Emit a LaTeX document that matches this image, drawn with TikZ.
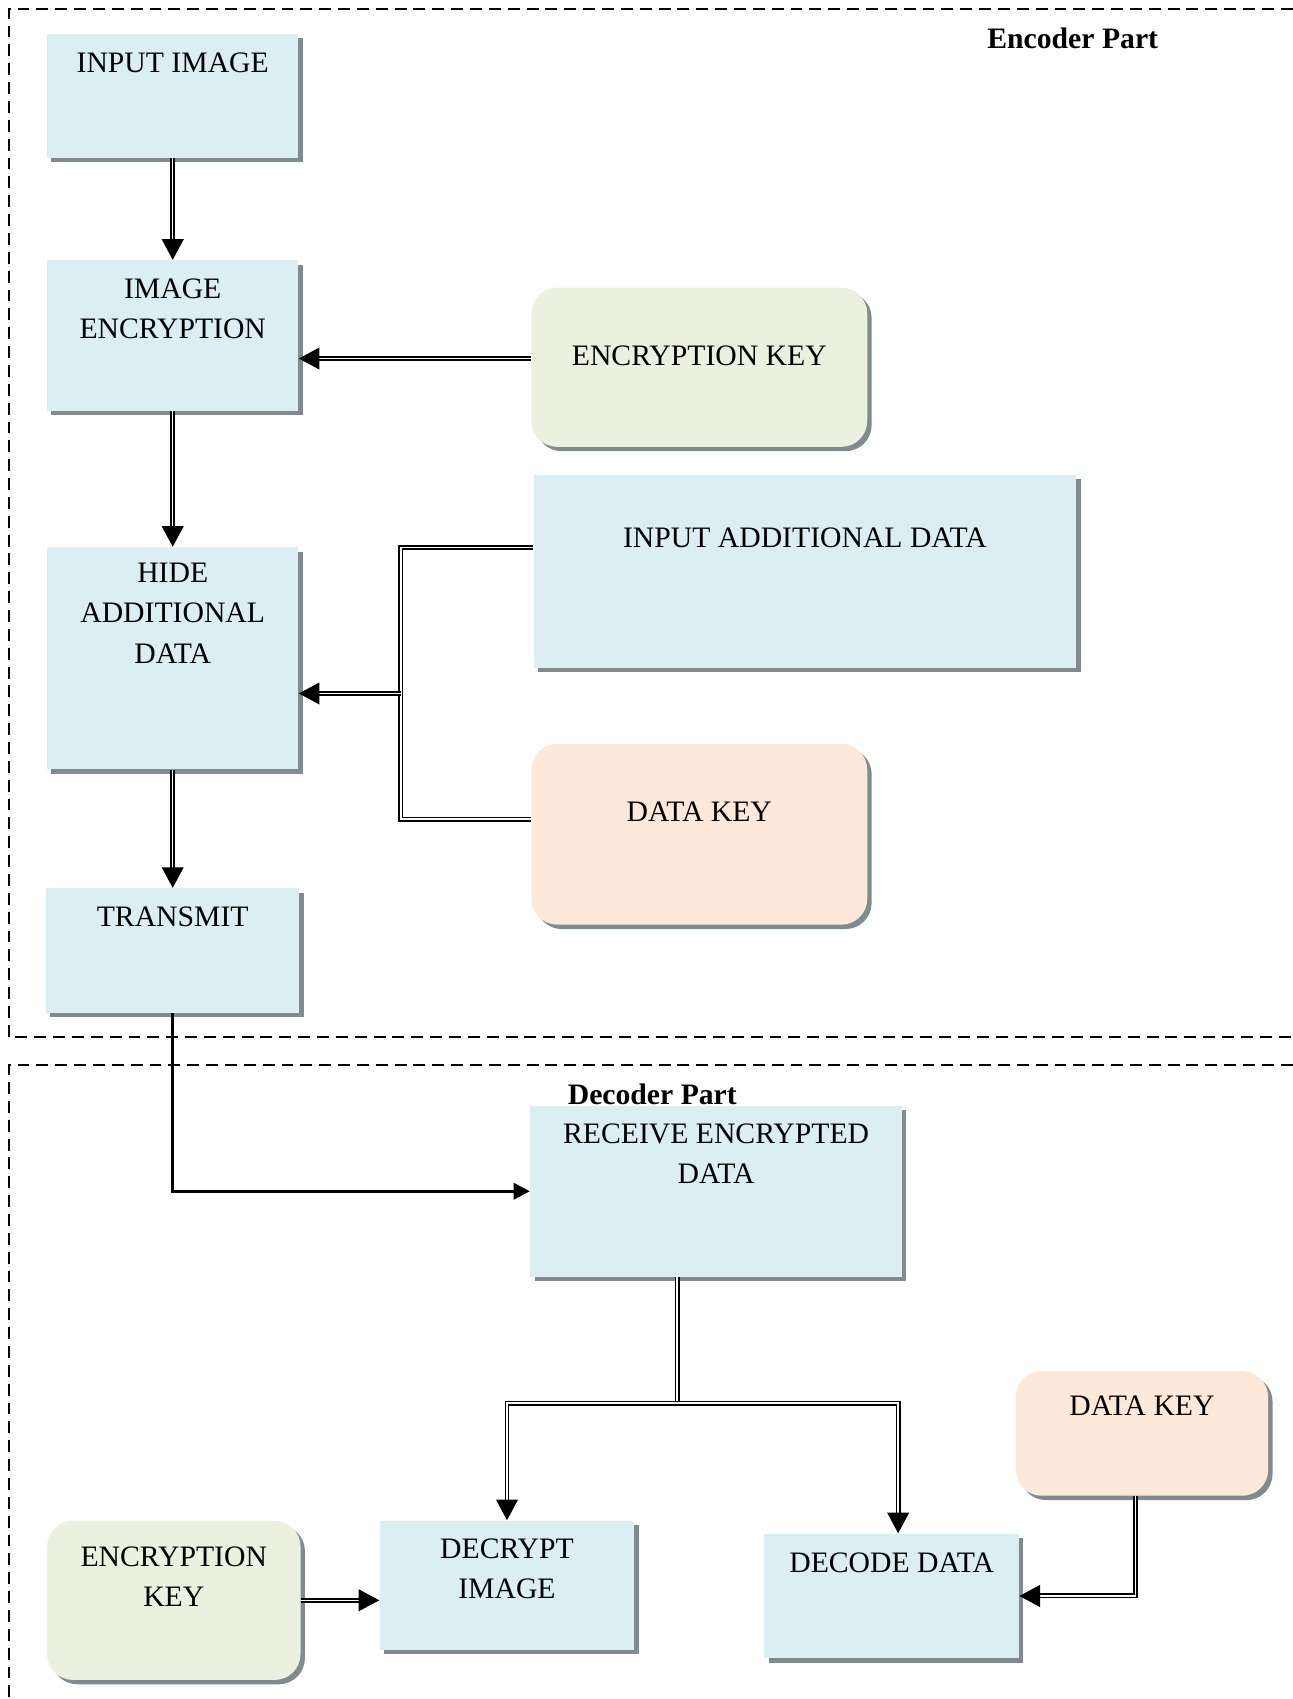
\documentclass[tikz,border=0pt]{standalone}
\usepackage{fontspec}
\setmainfont{Liberation Serif}
\usetikzlibrary{positioning, arrows.meta, shadows}
\definecolor{boxblue}{RGB}{218,238,243}
\definecolor{keygreen}{RGB}{235,241,222}
\definecolor{keypeach}{RGB}{253,233,217}
\definecolor{shadowgray}{RGB}{127,139,143}
\tikzset {
    box/.style={fill=boxblue, inner sep=0pt, anchor=north west,
        drop shadow={shadow xshift=2pt, shadow yshift=-2pt, fill=shadowgray, opacity=1}},
    keybox/.style={box, rounded corners=12pt},
    txt/.style={align=center, anchor=north, inner sep=0pt, font=\fontsize{13.7}{18.5}\selectfont},
    part/.style={inner sep=0pt, font=\fontsize{13.7}{18.5}\selectfont\bfseries},
    dbl/.style={draw=black, line width=0.8pt, double=white, double distance=0.7pt,
        -{Triangle[length=9.5pt, width=10pt]}},
    dblline/.style={dbl, -},
    wire/.style={draw=black, line width=1.4pt, -{Triangle[length=7.5pt, width=7.5pt]}},
    frame/.style={draw=black, line width=0.9pt, dash pattern=on 5.5pt off 3.2pt}
}

\begin{document}
\begin{tikzpicture}[x=0.5pt, y=-0.5pt]
    \useasboundingbox (0,0) rectangle (1193,1568);

    % encoder part
    \draw[frame] (1193,8) -- (8,8) -- (8,957) -- (1193,957);
    \node[part] (enctitle) at (990,35) {Encoder Part};

    \node[box, minimum width=116pt, minimum height=57pt,
        label={[txt, yshift=-8.5pt]north:INPUT IMAGE}] (inimg) at (43,31) {};
    \node[box, below=47pt of inimg, minimum width=116pt, minimum height=69.5pt,
        label={[txt, yshift=-8.5pt]north:{IMAGE\\ENCRYPTION}}] (imgenc) {};
    \node[box, below=62.5pt of imgenc, minimum width=116pt, minimum height=102.5pt,
        label={[txt, yshift=-7.5pt]north:{HIDE\\ADDITIONAL\\DATA}}] (hide) {};
    \node[box, below=54.5pt of hide, minimum width=117pt, minimum height=57.5pt,
        label={[txt, yshift=-8.5pt]north:TRANSMIT}] (trans) {};

    \node[keybox, fill=keygreen, minimum width=155pt, minimum height=73.5pt,
        label={[txt, yshift=-27pt]north:ENCRYPTION KEY}] (enckey) at (490,265) {};
    \node[box, minimum width=250.5pt, minimum height=89pt,
        label={[txt, yshift=-24.5pt]north:INPUT ADDITIONAL DATA}] (adddata) at (492,438) {};
    \node[keybox, fill=keypeach, minimum width=155pt, minimum height=83.5pt,
        label={[txt, yshift=-27pt]north:DATA KEY}] (datakey) at (490,686) {};

    \coordinate (jn) at (370,640);

    \draw[dbl] (inimg.south) -- (inimg.south |- imgenc.north);
    \draw[dbl] (imgenc.south) -- (imgenc.south |- hide.north);
    \draw[dbl] (hide.south) -- (hide.south |- trans.north);
    \draw[dbl] ([yshift=4pt]enckey.west) -- ([yshift=4pt]enckey.west -| imgenc.east);
    \draw[dblline] ([yshift=11pt]adddata.west) -| (jn) |- ([yshift=7pt]datakey.west);
    \draw[dbl] (jn) -- (jn -| hide.east);

    % decoder part
    \draw[frame] (1193,983) -- (8,983) -- (8,1568);
    \node[part] (dectitle) at (602,1010) {Decoder Part};

    \node[box, minimum width=171.5pt, minimum height=79pt,
        label={[txt, yshift=-8.5pt]north:{RECEIVE ENCRYPTED\\DATA}}] (recv) at (489,1020) {};
    \node[box, minimum width=117.5pt, minimum height=59.5pt,
        label={[txt, yshift=-8.5pt]north:{DECRYPT\\IMAGE}}] (decimg) at (350,1403) {};
    \node[box, minimum width=117.5pt, minimum height=57.5pt,
        label={[txt, yshift=-9pt]north:DECODE DATA}] (decdata) at (705,1415) {};
    \node[keybox, fill=keypeach, minimum width=116.5pt, minimum height=57.5pt,
        label={[txt, yshift=-11.5pt]north:DATA KEY}] (datakey2) at (937,1265) {};
    \node[keybox, fill=keygreen, minimum width=117pt, minimum height=73.5pt,
        label={[txt, yshift=-12pt]north:{ENCRYPTION\\KEY}}] (enckey2) at (43,1403) {};

    \coordinate (sp) at (625,1295);

    \draw[wire] (trans.south) |- (recv.west);
    \draw[dblline] (sp |- recv.south) -- (sp);
    \draw[dbl] (sp) -| (decimg.north);
    \draw[dbl] (sp) -| ([xshift=3pt]decdata.north);
    \draw[dbl] ([xshift=-3pt]datakey2.south) |- (decdata.east);
    \draw[dbl] (enckey2.east) -- (enckey2.east -| decimg.west);
\end{tikzpicture}
\end{document}
